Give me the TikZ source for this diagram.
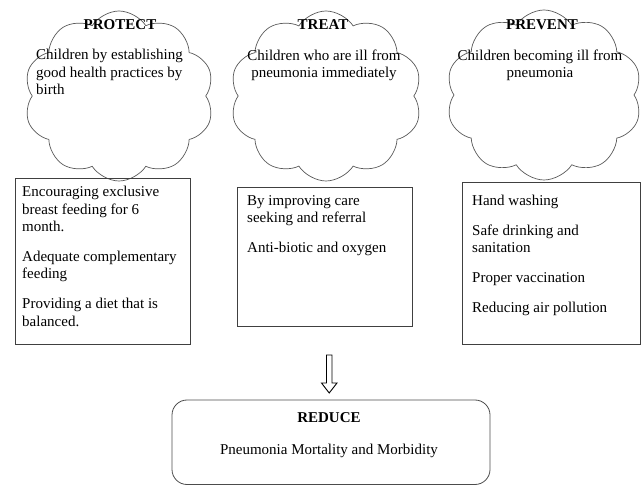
\documentclass[tikz,border=0pt]{standalone}
\usepackage{fontspec}
\setmainfont{Liberation Serif}
\usetikzlibrary{shapes.symbols}
\begin{document}
\begin{tikzpicture}[x=1pt,y=-1pt,
  every node/.style={font=\fontsize{15}{17.5}\selectfont, inner sep=0pt},
  cloudshape/.style={cloud, cloud puffs=10, cloud puff arc=115, draw=black!65, line width=0.7pt, minimum width=#1, minimum height=170pt},
  listbox/.style={draw=black!75, line width=0.8pt},
  ln/.style={anchor=base west},
  lc/.style={anchor=base},
  ttl/.style={anchor=base, font=\fontsize{15}{17.5}\selectfont\bfseries}]
\useasboundingbox (0,0) rectangle (643,486);
% clouds
\node[cloudshape=190pt] (c1) at (119,96) {};
\node[cloudshape=192pt] (c2) at (326,96) {};
\node[cloudshape=196pt] (c3) at (544,95) {};
% titles
\node[ttl] (t1) at (120,30) {PROTECT};
\node[ttl] (t2) at (323,30) {TREAT};
\node[ttl] (t3) at (542,30) {PREVENT};
% cloud texts
\node[ln] (p1a) at (36,60) {Children by establishing};
\node[ln] (p1b) at (36,78) {good health practices by};
\node[ln] (p1c) at (36,95) {birth};
\node[lc] (p2a) at (324,61) {Children who are ill from};
\node[lc] (p2b) at (324,78) {pneumonia immediately};
\node[lc] (p3a) at (540,61) {Children becoming ill from};
\node[lc] (p3b) at (540,78) {pneumonia};
% boxes
\draw[listbox] (15,178) rectangle (190,344);
\draw[listbox] (237,187) rectangle (412,326);
\draw[listbox] (462,182) rectangle (640,344);
% box 1
\node[ln] (b1a) at (22,197) {Encouraging exclusive};
\node[ln] (b1b) at (22,215) {breast feeding for 6};
\node[ln] (b1c) at (22,232) {month.};
\node[ln] (b1d) at (22,262) {Adequate complementary};
\node[ln] (b1e) at (22,279) {feeding};
\node[ln] (b1f) at (22,309) {Providing a diet that is};
\node[ln] (b1g) at (22,327) {balanced.};
% box 2
\node[ln] (b2a) at (247,206) {By improving care};
\node[ln] (b2b) at (247,223) {seeking and referral};
\node[ln] (b2c) at (247,253) {Anti-biotic and oxygen};
% box 3
\node[ln] (b3a) at (472,206) {Hand washing};
\node[ln] (b3b) at (472,236) {Safe drinking and};
\node[ln] (b3c) at (472,253) {sanitation};
\node[ln] (b3d) at (472,283) {Proper vaccination};
\node[ln] (b3e) at (472,313) {Reducing air pollution};
% arrow
\draw[line width=0.9pt, draw=black, fill=white, line join=miter]
  (326.5,355) -- (332,355) -- (332,383) -- (337,383) -- (329.2,393) -- (321.5,383) -- (326.5,383) -- cycle;
% reduce box
\draw[listbox, draw=black!70, rounded corners=15pt] (172,400) rectangle (490,484.5);
\node[ttl] (r1) at (329,423) {REDUCE};
\node[lc] (r2) at (329,454) {Pneumonia Mortality and Morbidity};
\end{tikzpicture}
\end{document}
